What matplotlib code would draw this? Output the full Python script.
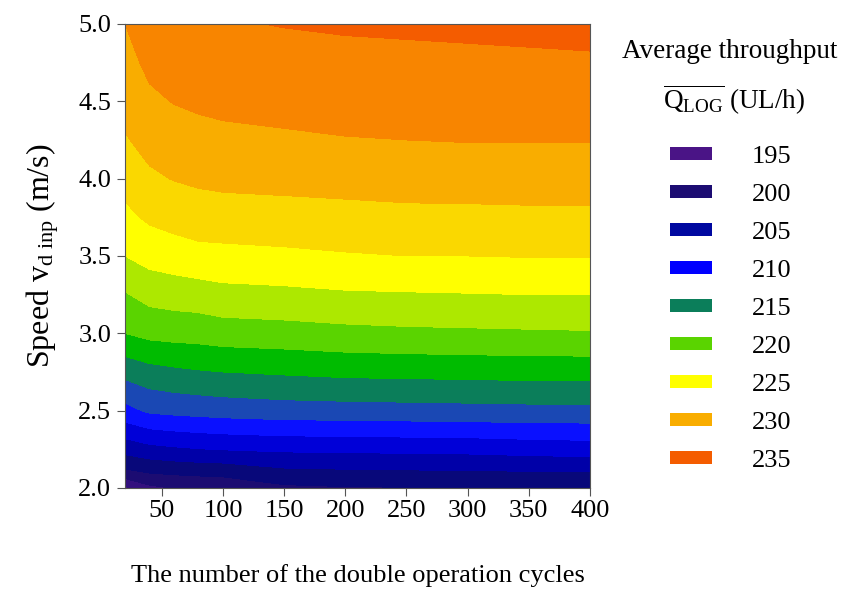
import matplotlib
matplotlib.use("Agg")

import matplotlib.pyplot as plt
from matplotlib.patches import Patch
from matplotlib.ticker import FormatStrFormatter

plt.rcParams["font.family"] = ["Liberation Serif", "DejaVu Serif"]
plt.rcParams["mathtext.fontset"] = "custom"
plt.rcParams["mathtext.rm"] = "Liberation Serif"
plt.rcParams["mathtext.it"] = "Liberation Serif:italic"

# ── Data ─────────────────────────────────────────────────────────────────────

cycles = [20, 40, 60, 80, 100, 150, 200, 250, 300, 350, 400]
speeds = [2.0, 2.1, 2.25, 2.5, 2.75, 3.0, 3.25, 3.5, 3.75, 4.0, 4.25, 4.5, 4.75, 5.0]

# average throughput (UL/h), one row per speed, one column per cycle count
throughput = [
    [197.0, 199.4, 200.1, 200.4, 200.7, 202.0, 202.3, 202.4, 202.5, 202.6, 202.7],
    [201.9, 202.6, 202.9, 203.1, 203.2, 204.3, 204.5, 204.6, 204.7, 204.8, 204.9],
    [205.9, 206.7, 207.1, 207.4, 207.6, 207.9, 208.0, 208.1, 208.2, 208.5, 208.7],
    [211.7, 212.9, 213.2, 213.4, 213.6, 213.9, 214.0, 214.1, 214.2, 214.3, 214.3],
    [215.8, 216.6, 217.0, 217.3, 217.5, 217.8, 218.1, 218.2, 218.3, 218.4, 218.4],
    [220.0, 220.7, 220.9, 221.0, 221.3, 221.5, 221.8, 222.0, 222.1, 222.2, 222.3],
    [222.3, 223.3, 223.6, 223.8, 224.2, 224.4, 224.7, 224.8, 224.9, 225.0, 225.0],
    [225.0, 225.9, 226.3, 226.7, 226.8, 227.0, 227.3, 227.5, 227.5, 227.6, 227.6],
    [226.9, 227.9, 228.4, 228.8, 228.9, 229.1, 229.2, 229.4, 229.4, 229.5, 229.5],
    [228.4, 229.6, 230.1, 230.4, 230.6, 230.7, 230.9, 231.0, 231.1, 231.1, 231.2],
    [229.8, 230.8, 231.3, 231.7, 231.9, 232.2, 232.4, 232.5, 232.6, 232.6, 232.6],
    [230.8, 232.0, 232.6, 232.9, 233.1, 233.2, 233.4, 233.5, 233.5, 233.6, 233.7],
    [231.6, 233.1, 233.8, 234.0, 234.2, 234.1, 234.3, 234.4, 234.5, 234.6, 234.7],
    [232.5, 234.2, 234.3, 234.6, 234.8, 235.1, 235.3, 235.4, 235.5, 235.6, 235.7],
]

levels = [195, 197.5, 200, 202.5, 205, 207.5, 210, 212.5, 215, 217.5,
          220, 222.5, 225, 227.5, 230, 232.5, 235, 237.5]
band_colors = ["#4a1486", "#33107e", "#1c0c72", "#08087a", "#0000a8", "#0000d8",
               "#0a10ff", "#1a48b4", "#0b7e5a", "#00bb00", "#5ad400", "#ade800",
               "#ffff00", "#fad800", "#f9ad00", "#f88500", "#f45c00"]

legend_values = ["195", "200", "205", "210", "215", "220", "225", "230", "235"]
legend_colors = ["#4a1486", "#1c0c72", "#0008a0", "#0000ff", "#0b7e5a",
                 "#5ad400", "#ffff00", "#f9ad00", "#f45c00"]

# ── Figure ───────────────────────────────────────────────────────────────────

fig = plt.figure(figsize=(8.46, 5.92), dpi=100)
ax = fig.add_axes([0.1478, 0.1757, 0.5496, 0.7838])

ax.contourf(cycles, speeds, throughput, levels=levels, colors=band_colors)

ax.set_xlim(20, 400)
ax.set_ylim(2.0, 5.0)
ax.set_xticks([50, 100, 150, 200, 250, 300, 350, 400])
ax.set_yticks([2.0, 2.5, 3.0, 3.5, 4.0, 4.5, 5.0])
ax.yaxis.set_major_formatter(FormatStrFormatter("%.1f"))
ax.tick_params(direction="out", length=6, width=0.8, color="#555555",
               labelsize=19)
ax.tick_params(axis="x", pad=3)
ax.tick_params(axis="y", pad=4)
for sp in ax.spines.values():
    sp.set_color("#555555")
    sp.set_linewidth(0.8)

ax.set_xlabel("The number of the double operation cycles", fontsize=19,
              labelpad=30)
ax.set_ylabel(r"Speed v$_\mathregular{d\ inp}$ (m/s)", fontsize=23,
              labelpad=12)

# legend: two-line heading plus one swatch per level
fig.text(0.862, 0.913, "Average throughput", fontsize=19.5,
         ha="center", va="center")
fig.text(0.868, 0.831, r"$\overline{\mathregular{Q_{LOG}}}$ (UL/h)",
         fontsize=19.5, ha="center", va="center")

handles = [Patch(facecolor=c, edgecolor="none") for c in legend_colors]
fig.legend(handles, legend_values, loc="center",
           bbox_to_anchor=(0.864, 0.478), frameon=False, fontsize=19,
           handlelength=1.6, handleheight=0.38, handletextpad=1.5,
           labelspacing=0.61)

fig.savefig("out.png", dpi=100)
plt.close(fig)
